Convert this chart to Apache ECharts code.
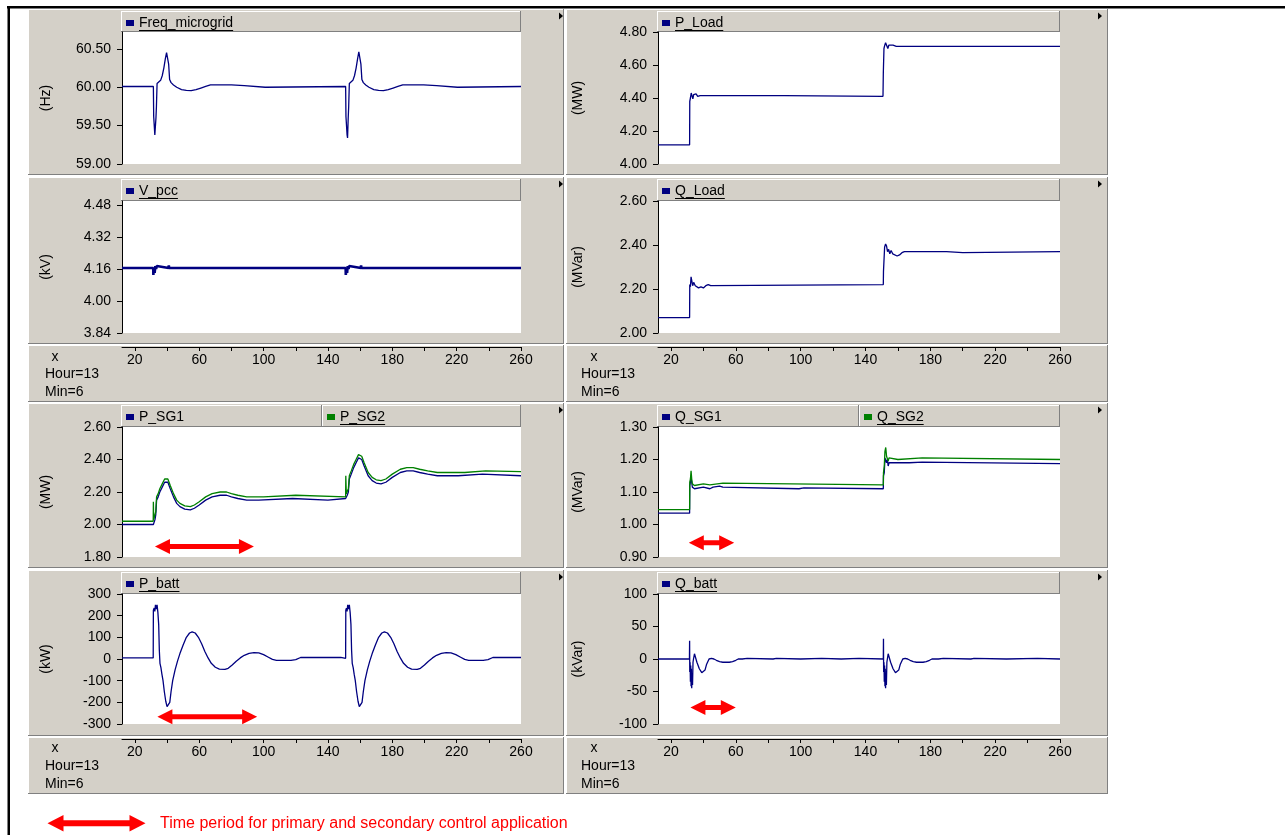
<!DOCTYPE html>
<html><head><meta charset="utf-8">
<script src="https://cdn.jsdelivr.net/npm/echarts@6/dist/echarts.min.js"></script>
<style>html,body{margin:0;padding:0;background:#fff;}#c{width:1285px;height:835px;}</style>
</head><body><div id="c"></div>
<script>
// ---------------- DATA ----------------
const xTickValues = [20,40,60,80,100,120,140,160,180,200,220,240,260];
const xLabelValues = [20,60,100,140,180,220,260];
const freqTicks = [59.0, 59.5, 60.0, 60.5];
const vpccTicks = [3.84, 4.00, 4.16, 4.32, 4.48];
const psgTicks = [1.8, 2.0, 2.2, 2.4, 2.6];
const pbattTicks = [-300, -200, -100, 0, 100, 200, 300];
const ploadTicks = [4.0, 4.2, 4.4, 4.6, 4.8];
const qloadTicks = [2.0, 2.2, 2.4, 2.6];
const qsgTicks = [0.9, 1.0, 1.1, 1.2, 1.3];
const qbattTicks = [-100, -50, 0, 50, 100];

const freqData = [[12,60.01],[31.5,60.01],[31.7,59.62],[32.1,59.62],[32.4,59.38],[32.7,59.36],[33.1,59.6],[33.4,59.75],[33.8,60.05],[35,60.06],[36,60.09],[37,60.15],[38,60.25],[39,60.38],[39.7,60.45],[40.4,60.44],[41,60.3],[41.6,60.1],[42.5,60.06],[44,60.03],[46,60.0],[49,59.97],[52,59.96],[55,59.955],[58,59.97],[61,59.99],[64,60.01],[67,60.03],[80,60.03],[81,60.02],[88,60.02],[88.5,60.0],[101,60.0],[101.5,60.01],
[151,60.01],[151.2,59.62],[151.6,59.62],[151.9,59.38],[152.2,59.34],[152.6,59.6],[152.9,59.75],[153.3,60.05],[154.5,60.06],[155.5,60.09],[156.5,60.15],[157.5,60.25],[158.5,60.38],[159.2,60.46],[159.9,60.45],[160.5,60.3],[161.1,60.1],[162,60.06],[163.5,60.03],[165.5,60.0],[168.5,59.97],[171.5,59.96],[174.5,59.955],[177.5,59.97],[180.5,59.99],[183.5,60.01],[186.5,60.03],[199.5,60.03],[200.5,60.02],[207.5,60.02],[208,60.0],[220.5,60.0],[221,60.01],[260,60.01]];

const vpccData = [[12,4.165],[31.4,4.165],[31.5,4.13],[31.9,4.165],[32.3,4.14],[32.7,4.175],[33.2,4.16],[33.6,4.175],[34.2,4.175],[34.5,4.165],[41,4.165],[41.1,4.178],[41.3,4.165],
[151,4.165],[151.1,4.13],[151.5,4.165],[151.9,4.14],[152.3,4.175],[152.8,4.16],[153.2,4.175],[153.8,4.175],[154.1,4.165],[160.5,4.165],[160.6,4.178],[160.8,4.165],[260,4.165]];

const psg1Data = [[12,2.00],[31.5,2.00],[31.8,2.01],[32.5,2.03],[33,2.06],[33.5,2.15],[34.5,2.17],[35.5,2.2],[37,2.23],[38.5,2.26],[39.6,2.27],[40.5,2.26],[42,2.22],[44,2.17],[46,2.13],[48,2.11],[51,2.095],[54.5,2.09],[57,2.1],[60,2.12],[64,2.15],[68,2.17],[73,2.18],[77,2.18],[80,2.17],[84,2.16],[89.5,2.15],[97,2.15],[97.5,2.16],[118,2.16],[118.5,2.15],[140,2.15],[140.5,2.16],
[151,2.16],[151.3,2.17],[152,2.18],[152.7,2.2],[153.3,2.28],[154.5,2.31],[156,2.35],[157.5,2.38],[159,2.41],[160,2.42],[161,2.40],[162.5,2.36],[165,2.3],[167.5,2.27],[170,2.255],[173,2.25],[176,2.26],[180,2.29],[185,2.32],[189,2.33],[193,2.33],[197,2.32],[202,2.31],[208,2.30],[221,2.30],[221.5,2.31],[236,2.31],[236.5,2.30],[260,2.30]];

const psg2Data = [[12,2.02],[31.4,2.02],[31.5,2.14],[31.7,2.03],[32.3,2.04],[33,2.08],[33.5,2.17],[34.5,2.19],[35.5,2.22],[37,2.25],[38.5,2.28],[39.6,2.29],[40.5,2.28],[42,2.24],[44,2.19],[46,2.15],[48,2.13],[51,2.115],[54.5,2.11],[57,2.12],[60,2.14],[64,2.17],[68,2.19],[73,2.20],[77,2.20],[80,2.19],[84,2.18],[89.5,2.17],[100,2.17],[100.5,2.18],[120,2.18],[120.5,2.17],
[151,2.17],[151.1,2.30],[151.4,2.19],[152,2.2],[152.7,2.22],[153.3,2.3],[154.5,2.33],[156,2.37],[157.5,2.40],[159,2.43],[160,2.44],[161,2.42],[162.5,2.38],[165,2.32],[167.5,2.29],[170,2.275],[173,2.27],[176,2.28],[180,2.31],[185,2.34],[189,2.35],[193,2.35],[197,2.34],[202,2.33],[208,2.32],[225,2.32],[225.5,2.33],[238,2.33],[238.5,2.325],[260,2.325]];

const pbattData = [[12,5],[31.4,5],[31.5,225],[32,235],[32.4,220],[32.8,250],[33.3,230],[33.8,250],[34.3,215],[34.8,160],[35.2,40],[35.6,-20],[36.2,-40],[36.8,-70],[37.5,-100],[38.3,-150],[39.2,-195],[40,-220],[41,-222],[41.7,-200],[42.5,-150],[43.5,-100],[45,-50],[46.5,-10],[48,25],[50,65],[52,100],[54,120],[55.6,125],[57.5,120],[59.5,100],[61.5,70],[63.5,35],[65.5,5],[67.5,-20],[70,-38],[72.5,-47],[76,-48],[78,-43],[80.5,-28],[83,-10],[85.5,5],[88,17],[91,26],[94,29],[97,28],[100,20],[103,8],[105.5,-2],[108,-6],[117,-6],[120,-3],[123,7],[148,7],[148.5,3],[151,3],
[151.1,225],[151.5,235],[151.9,220],[152.3,250],[152.8,230],[153.3,250],[153.8,215],[154.3,160],[154.7,40],[155.1,-20],[155.7,-40],[156.3,-70],[157,-100],[157.8,-150],[158.7,-195],[159.5,-220],[160.5,-225],[161.2,-200],[162,-150],[163,-100],[164.5,-50],[166,-10],[167.5,25],[169.5,65],[171.5,100],[173.5,120],[175.1,125],[177,120],[179,100],[181,70],[183,35],[185,5],[187,-20],[189.5,-38],[192,-47],[195.5,-48],[197.5,-43],[200,-28],[202.5,-10],[205,5],[207.5,17],[210.5,26],[213.5,29],[216.5,28],[219.5,20],[222.5,8],[225,-2],[227.5,-6],[236.5,-6],[239.5,-3],[242.5,7],[260,7]];

const ploadData = [[12,4.116],[31.5,4.116],[31.6,4.38],[32,4.40],[32.5,4.43],[33,4.425],[33.5,4.395],[34,4.42],[34.8,4.41],[35.5,4.425],[36.5,4.41],[38,4.415],[90,4.415],[90.5,4.41],[150.8,4.41],[151,4.55],[151.4,4.70],[151.9,4.72],[152.4,4.735],[153.2,4.73],[153.8,4.70],[154.4,4.72],[155.5,4.715],[157,4.72],[159,4.713],[260,4.713]];

const qloadData = [[12,2.07],[31.5,2.07],[31.6,2.22],[32,2.21],[32.4,2.255],[32.9,2.25],[33.4,2.215],[34,2.23],[35,2.215],[36,2.22],[37,2.205],[38.5,2.21],[40,2.205],[41.5,2.215],[43,2.22],[44.5,2.215],[45.5,2.22],
[151,2.22],[151.1,2.28],[151.6,2.28],[151.8,2.39],[152.4,2.405],[153,2.395],[153.6,2.37],[154.3,2.38],[155,2.36],[155.8,2.375],[156.8,2.36],[158,2.365],[159.5,2.35],[161,2.355],[162.5,2.365],[164,2.37],[190,2.37],[190.3,2.365],[200,2.365],[200.3,2.37],[260,2.37]];

const qsg1Data = [[12,1.035],[31.5,1.035],[31.6,1.12],[32,1.13],[32.4,1.145],[32.8,1.13],[33.2,1.115],[33.8,1.12],[34.5,1.11],[35,1.115],[40,1.115],[40.3,1.11],[44,1.11],[44.3,1.115],[46,1.115],[46.3,1.118],[50,1.118],[50.3,1.115],[52,1.115],[52.3,1.11],[99,1.11],[99.1,1.113],[102,1.113],[102.1,1.11],
[151,1.11],[151.1,1.15],[151.6,1.16],[152,1.205],[152.5,1.21],[153,1.19],[153.5,1.2],[154,1.18],[154.5,1.19],[155,1.185],[155.5,1.19],[167,1.19],[167.3,1.192],[175,1.192],[175.3,1.187],[260,1.187]];

const qsg2Data = [[12,1.046],[31.5,1.046],[31.6,1.13],[32,1.14],[32.4,1.165],[32.8,1.14],[33.2,1.125],[33.8,1.13],[34.5,1.12],[35,1.125],[40,1.125],[40.3,1.122],[44,1.122],[44.3,1.127],[52,1.127],[52.3,1.122],
[151,1.122],[151.1,1.16],[151.6,1.18],[152,1.225],[152.5,1.237],[153,1.21],[153.5,1.215],[154,1.195],[154.5,1.205],[155,1.2],[160,1.2],[160.3,1.205],[175,1.205],[175.3,1.2],[260,1.2]];

const qbattData = [[12,0],[31.4,0],[31.5,28],[31.6,-20],[31.8,-5],[32,-35],[32.2,-10],[32.4,-42],[32.6,-15],[32.8,-45],[33,-25],[33.3,-40],[33.6,-5],[33.9,0],[34.5,8],[35,5],[36,-5],[37.5,-15],[39,-21],[40,-22],[41,-17],[42,-8],[43.5,0],[45,1],[46.5,0],[48,-2],[50,-4],[52,-5],[56,-5],[58,-4],[60,-2],[61.5,0],[64,0],[64.1,1],[67,1],[67.1,0],[83,0],[83.1,1],[85,1],[85.1,0],[100,0],[100.1,1],[113,1],[113.1,0],[125,0],[125.1,1],[136,1],[136.1,0],
[151,0],[151.1,31],[151.2,-20],[151.4,-5],[151.6,-35],[151.8,-10],[152,-42],[152.2,-15],[152.4,-45],[152.6,-25],[152.9,-40],[153.2,-5],[153.5,0],[154,8],[154.5,5],[155.5,-5],[157,-15],[158.5,-21],[159.5,-22],[160.5,-17],[161.5,-8],[163,0],[164.5,1],[166,0],[167.5,-2],[169.5,-4],[171.5,-5],[175.5,-5],[177.5,-4],[179.5,-2],[181,0],[185,0],[185.1,1],[188,1],[188.1,0],[205,0],[205.1,1],[207,1],[207.1,0],[227,0],[227.1,1],[246,1],[246.1,0],[260,0]];

// annotation arrows (data units: [tStart, tEnd, value])
const arrowPSG = [32.5, 94, 1.864];
const arrowPbatt = [34, 96, -266];
const arrowQSG = [31, 59, 0.944];
const arrowQbatt = [32, 60, -74.7];
const footnote = 'Time period for primary and secondary control application';

// ---------------- LAYOUT ----------------
const FONT = '"Liberation Sans", Arial, Helvetica, sans-serif';
const NAVY = '#000080', GREEN = '#008000', PANEL = '#d4d0c8', SHADOW = '#808080';
const COLS = [
  {x0:28, x1:564, plotL:122, plotR:521, split:322, tri:559, xMark:55, textX:45, nameGap:69},
  {x0:566, x1:1108, plotL:658, plotR:1060, split:859, tri:1098, xMark:594, textX:581, nameGap:73}
];
const ROWS = [
  {top:9, bottom:175, plotT:32, plotB:164},
  {top:177, bottom:344, plotT:201, plotB:333},
  {top:403, bottom:568, plotT:427, plotB:557},
  {top:570, bottom:736, plotT:594, plotB:724}
];
const XPANELS = [
  {row:1, top:345, bottom:402, axisY:347, xY:357, hourY:374, minY:392},
  {row:3, top:737, bottom:794, axisY:739, xY:748, hourY:766, minY:784}
];

const panels = [
  {col:0,row:0,yName:'(Hz)',min:59,max:60.72,ticks:freqTicks,dec:2,series:[{name:'Freq_microgrid',data:freqData,color:NAVY,ul:true}]},
  {col:0,row:1,yName:'(kV)',min:3.84,max:4.50,ticks:vpccTicks,dec:2,series:[{name:'V_pcc',data:vpccData,color:NAVY,width:2.6,ul:true}]},
  {col:0,row:2,yName:'(MW)',min:1.8,max:2.6,ticks:psgTicks,dec:2,arrow:arrowPSG,series:[{name:'P_SG1',data:psg1Data,color:NAVY},{name:'P_SG2',data:psg2Data,color:GREEN,ul:true}]},
  {col:0,row:3,yName:'(kW)',min:-300,max:300,ticks:pbattTicks,dec:0,arrow:arrowPbatt,series:[{name:'P_batt',data:pbattData,color:NAVY,ul:true}]},
  {col:1,row:0,yName:'(MW)',min:4.0,max:4.8,ticks:ploadTicks,dec:2,series:[{name:'P_Load',data:ploadData,color:NAVY,ul:true}]},
  {col:1,row:1,yName:'(MVar)',min:2.0,max:2.6,ticks:qloadTicks,dec:2,series:[{name:'Q_Load',data:qloadData,color:NAVY,ul:true}]},
  {col:1,row:2,yName:'(MVar)',min:0.9,max:1.3,ticks:qsgTicks,dec:2,arrow:arrowQSG,series:[{name:'Q_SG1',data:qsg1Data,color:NAVY},{name:'Q_SG2',data:qsg2Data,color:GREEN,ul:true}]},
  {col:1,row:3,yName:'(kVar)',min:-100,max:100,ticks:qbattTicks,dec:0,arrow:arrowQbatt,series:[{name:'Q_batt',data:qbattData,color:NAVY,ul:true}]}
];

const mctx = document.createElement('canvas').getContext('2d');
mctx.font = '14px ' + FONT;

const G = [];
function rect(x,y,w,h,fill,z){G.push({type:'rect',silent:true,z:z||-10,shape:{x:x,y:y,width:w,height:h},style:{fill:fill}});}
function hl(x1,y1,x2,y2,c,z,w){G.push({type:'line',silent:true,z:z||-9,shape:{x1:x1,y1:y1,x2:x2,y2:y2},style:{stroke:c,lineWidth:w||1}});}
function txt(x,y,s,opt,size){G.push({type:'text',silent:true,z:5,x:x,y:y,style:Object.assign({text:s,font:(size||14)+'px '+FONT,fill:'#000',textVerticalAlign:'middle',textAlign:'left'},opt||{})});}
function panel3d(x0,y0,x1,y1){
  rect(x0,y0,x1-x0,y1-y0,PANEL);
  hl(x0,y0+0.5,x1,y0+0.5,'#ffffff');
  hl(x0+0.5,y0,x0+0.5,y1,'#ffffff');
  hl(x0,y1-0.5,x1,y1-0.5,SHADOW);
  hl(x1-0.5,y0,x1-0.5,y1,SHADOW);
}
function tri(x,y){G.push({type:'polygon',silent:true,z:5,shape:{points:[[x,y-3.5],[x+4,y],[x,y+3.5]]},style:{fill:'#000'}});}
function dblArrow(xa,xb,y,hl_,hh,st,z){
  G.push({type:'polygon',silent:true,z:z||100,shape:{points:[[xa,y],[xa+hl_,y-hh],[xa+hl_,y-st/2],[xb-hl_,y-st/2],[xb-hl_,y-hh],[xb,y],[xb-hl_,y+hh],[xb-hl_,y+st/2],[xa+hl_,y+st/2],[xa+hl_,y+hh]]},style:{fill:'#ff0000'}});
}

// outer border
rect(7,6,1278,2.5,'#000',-8);
rect(7.5,6,2.5,829,'#000',-8);

// panels
COLS.forEach(c=>{
  ROWS.forEach(r=>{ panel3d(c.x0,r.top,c.x1,r.bottom); tri(c.tri,r.top+7); });
  XPANELS.forEach(xp=>{
    panel3d(c.x0,xp.top,c.x1,xp.bottom);
    txt(c.xMark,xp.xY,'x',{textAlign:'center'});
    txt(c.textX,xp.hourY,'Hour=13');
    txt(c.textX,xp.minY,'Min=6');
  });
});

const grids=[], xAxes=[], yAxes=[], series=[], legends=[];
panels.forEach((p,i)=>{
  const c=COLS[p.col], r=ROWS[p.row];
  grids.push({left:c.plotL,top:r.plotT,width:c.plotR-c.plotL,height:r.plotB-r.plotT,show:true,backgroundColor:'#ffffff',borderWidth:0,containLabel:false});
  const xp = XPANELS.find(q=>q.row===p.row);
  xAxes.push({gridIndex:i,type:'value',min:12,max:260,show:!!xp,position:'bottom',offset:xp?(xp.axisY-r.plotB):0,
    axisLine:{show:true,onZero:false,lineStyle:{color:'#000',width:1}},
    axisTick:{show:true,length:4,customValues:xTickValues,lineStyle:{color:'#000'}},
    axisLabel:{customValues:xLabelValues,margin:6,color:'#000',fontSize:14,fontFamily:FONT},
    splitLine:{show:false}});
  yAxes.push({gridIndex:i,type:'value',min:p.min,max:p.max,position:'left',
    axisLine:{show:true,onZero:false,lineStyle:{color:'#000',width:1}},
    axisTick:{show:true,length:5,customValues:p.ticks,lineStyle:{color:'#000'}},
    axisLabel:{customValues:p.ticks,margin:11,color:'#000',fontSize:14,fontFamily:FONT,formatter:(v)=>Number(v).toFixed(p.dec)},
    splitLine:{show:false},
    name:p.yName,nameLocation:'middle',nameRotate:90,nameGap:c.nameGap,
    nameTextStyle:{color:'#000',fontSize:14,fontFamily:FONT}});
  // header
  const hTop=r.top+2, hBot=r.plotT;
  const secs = p.series.length===1 ? [[c.plotL-1,c.plotR]] : [[c.plotL-1,c.split],[c.split,c.plotR]];
  p.series.forEach((s,k)=>{
    const sx0=secs[k][0], sx1=secs[k][1];
    rect(sx0,hTop,sx1-sx0,hBot-hTop,PANEL,-7);
    hl(sx0,hTop+0.5,sx1,hTop+0.5,'#ffffff',-6);
    hl(sx0+0.5,hTop,sx0+0.5,hBot,'#ffffff',-6);
    hl(sx1-0.5,hTop,sx1-0.5,hBot,SHADOW,-6);
    hl(sx0,hBot-0.5,sx1,hBot-0.5,SHADOW,-6);
    const cy=hTop+12;
    legends.push({data:[s.name],left:sx0+5,top:cy-7,padding:0,icon:'rect',itemWidth:8,itemHeight:6,selectedMode:false,
      textStyle:{color:'#000',fontSize:14,fontFamily:FONT,lineHeight:14}});
    if(s.ul){
      const tx=sx0+5+8+5, w=mctx.measureText(s.name).width;
      hl(tx,cy+7.5,tx+w,cy+7.5,'#000',10);
    }
    series.push({type:'line',name:s.name,xAxisIndex:i,yAxisIndex:i,data:s.data,showSymbol:false,symbol:'none',
      lineStyle:{color:s.color,width:s.width||1.3},itemStyle:{color:s.color},animation:false,silent:true,z:3});
  });
});

// footnote
dblArrow(47.5,145.5,823.3,16,8.3,6,100);
txt(160,823.3,footnote,{fill:'#ff0000'},16);

const chart = echarts.init(document.getElementById('c'),null,{renderer:'canvas',width:1285,height:835});
const base = {animation:false,backgroundColor:'#ffffff',grid:grids,xAxis:xAxes,yAxis:yAxes,series:series,legend:legends,tooltip:{show:false}};
chart.setOption(Object.assign({},base,{graphic:{elements:G}}));

// in-chart arrows from data coordinates
panels.forEach((p,i)=>{
  if(!p.arrow) return;
  const a=chart.convertToPixel({gridIndex:i},[p.arrow[0],p.arrow[2]]);
  const b=chart.convertToPixel({gridIndex:i},[p.arrow[1],p.arrow[2]]);
  dblArrow(a[0],b[0],a[1],15,7.5,5,100);
});
chart.setOption({graphic:{elements:G}});
</script>
</body></html>
